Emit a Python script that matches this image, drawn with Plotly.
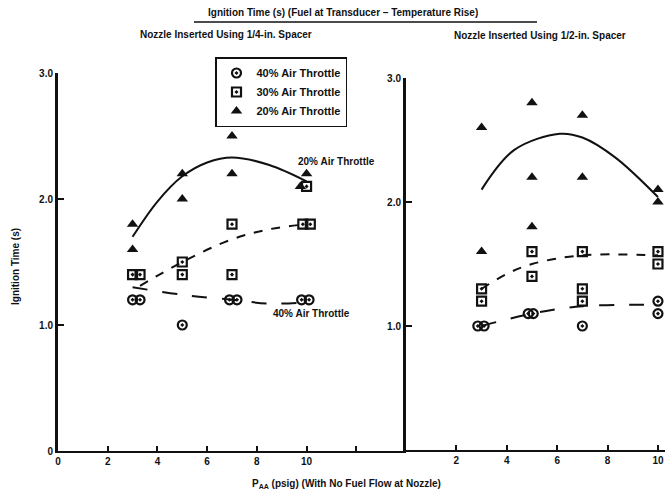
import plotly.graph_objects as go

W, H = 669, 497

# ---------------- data ----------------
# Left panel: nozzle inserted using 1/4-in. spacer
tri_left_x = [3, 3, 5, 5, 7, 7, 10, 9.75]
tri_left_y = [1.8, 1.6, 2.2, 2.0, 2.5, 2.2, 2.2, 2.1]
sq_left_x = [3.0, 3.3, 5, 5, 7, 7, 10.0, 9.85, 10.15]
sq_left_y = [1.4, 1.4, 1.5, 1.4, 1.8, 1.4, 2.1, 1.8, 1.8]
circ_left_x = [3.0, 3.3, 5, 6.9, 7.2, 9.8, 10.1]
circ_left_y = [1.2, 1.2, 1.0, 1.2, 1.2, 1.2, 1.2]

curve20_left_x = [3, 4, 5, 6, 7, 8.5, 10]
curve20_left_y = [1.70, 1.98, 2.18, 2.29, 2.33, 2.27, 2.14]
curve30_left_x = [3.3, 5, 7, 8.5, 10]
curve30_left_y = [1.31, 1.50, 1.68, 1.76, 1.80]
curve40_left_x = [3, 5, 7, 8.5, 10]
curve40_left_y = [1.30, 1.24, 1.20, 1.17, 1.18]

# Right panel: nozzle inserted using 1/2-in. spacer
tri_right_x = [3, 3, 5, 5, 5, 7, 7, 10, 10]
tri_right_y = [2.6, 1.6, 2.8, 2.2, 1.8, 2.7, 2.2, 2.1, 2.0]
sq_right_x = [3, 3, 5, 5, 7, 7, 7, 10, 10]
sq_right_y = [1.3, 1.2, 1.6, 1.4, 1.6, 1.3, 1.2, 1.6, 1.5]
circ_right_x = [2.85, 3.1, 4.85, 5.05, 7, 10, 10]
circ_right_y = [1.0, 1.0, 1.1, 1.1, 1.0, 1.2, 1.1]

curve20_right_x = [3, 4.3, 6.1, 7, 8.3, 10]
curve20_right_y = [2.10, 2.42, 2.55, 2.52, 2.36, 2.04]
curve30_right_x = [3, 4, 5, 7, 10]
curve30_right_y = [1.30, 1.42, 1.50, 1.57, 1.57]
curve40_right_x = [3, 5, 7, 10]
curve40_right_y = [1.00, 1.10, 1.16, 1.17]

left_xticks = [0, 2, 4, 6, 8, 10]
left_xtext = ["0", "2", "4", "6", "8", "10"]
left_xminor = [12]
right_xticks = [2, 4, 6, 8, 10]
right_xtext = ["2", "4", "6", "8", "10"]
left_yticks = [0, 1, 2, 3]
left_ytext = ["0", "1.0", "2.0", "3.0"]
right_yticks = [1, 2, 3]
right_ytext = ["1.0", "2.0", "3.0"]

series_names = ["40% Air Throttle", "30% Air Throttle", "20% Air Throttle"]

# ---------------- figure ----------------
FONT = "Liberation Sans, Arial, sans-serif"
BLACK = "#111111"

def px(x):
    return x / W

def py(y):
    return 1 - y / H

fig = go.Figure()

marker_circle = dict(symbol="circle-open-dot", size=9, color=BLACK, line=dict(width=2.2, color=BLACK))
marker_square = dict(symbol="square-open-dot", size=9, color=BLACK, line=dict(width=2.2, color=BLACK))
marker_tri = dict(symbol="triangle-up", size=10, color=BLACK, line=dict(width=0))

# curves
for xs, ys, dash, ax in [
    (curve20_left_x, curve20_left_y, "solid", ("x", "y")),
    (curve30_left_x, curve30_left_y, "dash", ("x", "y")),
    (curve40_left_x, curve40_left_y, "longdash", ("x", "y")),
    (curve20_right_x, curve20_right_y, "solid", ("x2", "y2")),
    (curve30_right_x, curve30_right_y, "dash", ("x2", "y2")),
    (curve40_right_x, curve40_right_y, "longdash", ("x2", "y2")),
]:
    fig.add_trace(go.Scatter(x=xs, y=ys, mode="lines", xaxis=ax[0], yaxis=ax[1],
                             line=dict(color=BLACK, width=2, dash=dash, shape="spline"),
                             showlegend=False, hoverinfo="skip"))

# markers (left panel holds the legend entries)
fig.add_trace(go.Scatter(x=circ_left_x, y=circ_left_y, mode="markers", marker=marker_circle,
                         name=series_names[0], legendgroup="a", xaxis="x", yaxis="y"))
fig.add_trace(go.Scatter(x=sq_left_x, y=sq_left_y, mode="markers", marker=marker_square,
                         name=series_names[1], legendgroup="b", xaxis="x", yaxis="y"))
fig.add_trace(go.Scatter(x=tri_left_x, y=tri_left_y, mode="markers", marker=marker_tri,
                         name=series_names[2], legendgroup="c", xaxis="x", yaxis="y"))
fig.add_trace(go.Scatter(x=circ_right_x, y=circ_right_y, mode="markers", marker=marker_circle,
                         showlegend=False, xaxis="x2", yaxis="y2"))
fig.add_trace(go.Scatter(x=sq_right_x, y=sq_right_y, mode="markers", marker=marker_square,
                         showlegend=False, xaxis="x2", yaxis="y2"))
fig.add_trace(go.Scatter(x=tri_right_x, y=tri_right_y, mode="markers", marker=marker_tri,
                         showlegend=False, xaxis="x2", yaxis="y2"))

tickfont = dict(family=FONT, size=10, color=BLACK, weight="bold")

fig.update_layout(
    width=W, height=H,
    margin=dict(l=0, r=0, t=0, b=0),
    paper_bgcolor="white", plot_bgcolor="white",
    font=dict(family=FONT, size=10, color=BLACK, weight="bold"),
    xaxis=dict(domain=[px(58), px(406)], range=[0, 14], anchor="y",
               tickvals=left_xticks, ticktext=left_xtext, ticks="inside", ticklen=5,
               tickwidth=1.5, tickcolor=BLACK, showline=True, linecolor=BLACK, linewidth=1.5,
               minor=dict(tickvals=left_xminor, ticks="inside", ticklen=5, tickwidth=1.5,
                          tickcolor=BLACK, showgrid=False),
               showgrid=False, zeroline=False, tickfont=tickfont, automargin=False),
    yaxis=dict(domain=[py(451), py(73)], range=[0, 3], anchor="x",
               tickvals=left_yticks, ticktext=left_ytext, ticks="inside", ticklen=6,
               tickwidth=1.5, tickcolor=BLACK, showline=True, linecolor=BLACK, linewidth=3,
               showgrid=False, zeroline=False, tickfont=tickfont, automargin=False),
    xaxis2=dict(domain=[px(406), px(665)], range=[0, 10.28], anchor="y2",
                tickvals=right_xticks, ticktext=right_xtext, ticks="inside", ticklen=5,
                tickwidth=1.5, tickcolor=BLACK, showline=True, linecolor=BLACK, linewidth=1.5,
                showgrid=False, zeroline=False, tickfont=tickfont, automargin=False),
    yaxis2=dict(domain=[py(450), py(78)], range=[0, 3], anchor="x2",
                tickvals=right_yticks, ticktext=right_ytext, ticks="inside", ticklen=6,
                tickwidth=1.5, tickcolor=BLACK, showline=True, linecolor=BLACK, linewidth=3,
                showgrid=False, zeroline=False, tickfont=tickfont, automargin=False),
    legend=dict(x=px(215), y=py(57), xanchor="left", yanchor="top",
                bordercolor=BLACK, borderwidth=1.5, bgcolor="white",
                font=dict(family=FONT, size=11, color=BLACK, weight="bold"),
                tracegroupgap=0, itemwidth=30),
    showlegend=True,
)

def text(x, y, s, size=10, xanchor="center", angle=0):
    fig.add_annotation(x=px(x), y=py(y), xref="paper", yref="paper", text=s,
                       showarrow=False, xanchor=xanchor, yanchor="middle", textangle=angle,
                       font=dict(family=FONT, size=size, color=BLACK, weight="bold"))

text(343, 12, "Ignition Time (s) (Fuel at Transducer \u2013 Temperature Rise)")
fig.add_shape(type="line", xref="paper", yref="paper", x0=px(194), x1=px(537), y0=py(22), y1=py(22),
              line=dict(color=BLACK, width=1.5))
text(226, 34, "Nozzle Inserted Using 1/4-in. Spacer")
text(540, 35, "Nozzle Inserted Using 1/2-in. Spacer")
text(15, 267, "Ignition Time (s)", angle=-90)
text(346, 484, "P<sub>AA</sub> (psig) (With No Fuel Flow at Nozzle)")

# curve labels placed in data coordinates of the left panel
fig.add_annotation(x=9.56, y=2.30, xref="x", yref="y", text="20% Air Throttle", showarrow=False,
                   xanchor="left", font=dict(family=FONT, size=10, color=BLACK, weight="bold"))
fig.add_annotation(x=8.55, y=1.09, xref="x", yref="y", text="40% Air Throttle", showarrow=False,
                   xanchor="left", font=dict(family=FONT, size=10, color=BLACK, weight="bold"))

fig.write_html("out.html")
